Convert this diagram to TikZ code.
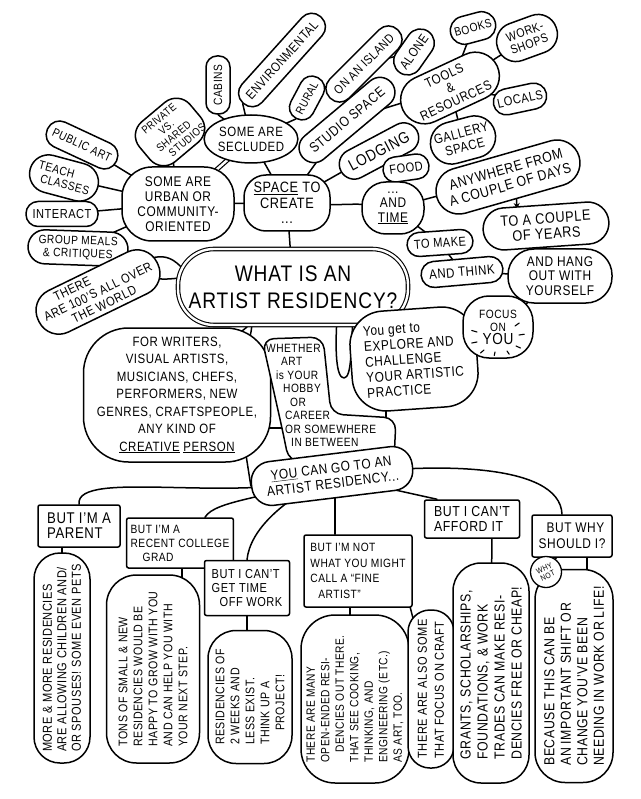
\documentclass[tikz,border=0pt]{standalone}
\usepackage{fontspec}
\newfontfamily\hand[FakeStretch=0.85,LetterSpace=4]{Liberation Sans}
\newcommand\myf[2]{\hand\fontsize{#1}{#2}\selectfont}
\usetikzlibrary{shapes.geometric,arrows.meta}
\pgfdeclarelayer{bg}
\pgfsetlayers{bg,main}
\tikzset{
  ln/.style={line width=1.5pt, line cap=round, line join=round},
  stad/.style={draw, fill=white, line width=1.5pt, rounded corners=#1, align=center, inner xsep=2pt, inner ysep=1pt},
  oval/.style={draw, fill=white, ellipse, line width=1.5pt, align=center, inner sep=0pt},
  sq/.style={draw, fill=white, line width=1.5pt, rounded corners=2pt, align=left, inner xsep=4pt, inner ysep=3pt},
}
\begin{document}
\begin{tikzpicture}[x=1pt,y=-1pt]
\useasboundingbox (0,0) rectangle (640,799);

% ---------- top left ----------
\node[stad=11pt, rotate=90, minimum width=58, minimum height=24, font=\myf{12}{13}] (cabins) at (218,85) {CABINS};
\node[stad=13pt, rotate=48, minimum width=116, minimum height=27, font=\myf{13}{14}] (env) at (282,60) {ENVIRONMENTAL};
\node[stad=12pt, rotate=62, minimum width=46, minimum height=25, font=\myf{11.5}{12}] (rural) at (307,98) {RURAL};
\node[stad=18pt, rotate=40, minimum width=66, minimum height=52, font=\myf{11}{11.5}] (private) at (170,132) {PRIVATE\\VS.\\SHARED\\\hspace*{16pt}STUDIOS};
\node[oval, minimum width=90, minimum height=48, font=\myf{13.5}{15}] (secluded) at (251,139) {SOME ARE\\SECLUDED};
\node[stad=13pt, rotate=-25, minimum width=76, minimum height=27, font=\myf{12}{13}] (publicart) at (82,145) {PUBLIC ART};
\node[stad=19pt, rotate=-15, minimum width=70, minimum height=38, font=\myf{12}{12.5}, align=left] (teach) at (64,178) {TEACH\\\hspace*{5pt}CLASSES};
\node[stad=12pt, minimum width=72, minimum height=25, font=\myf{13}{14}] (interact) at (62,214) {INTERACT};
\node[stad=17pt, rotate=-2, minimum width=100, minimum height=34, font=\myf{12}{13}] (group) at (78,248) {GROUP MEALS\\\& CRITIQUES};
\node[stad=30pt, minimum width=112, minimum height=74, font=\myf{14}{15}] (urban) at (178,204) {SOME ARE\\URBAN OR\\COMMUNITY-\\ORIENTED};
\node[stad=22pt, minimum width=86, minimum height=56, font=\myf{15}{15.5}] (space) at (287,203) {\underline{SPACE} TO\\CREATE\\...};

% ---------- top right ----------
\node[stad=13pt, rotate=45, minimum width=96, minimum height=27, font=\myf{12.5}{13}] (island) at (364,64) {ON AN ISLAND};
\node[stad=14pt, rotate=55, minimum width=50, minimum height=28, font=\myf{13}{14}] (alone) at (414,52) {ALONE};
\node[stad=15pt, rotate=40, minimum width=116, minimum height=30, font=\myf{14}{15}] (studio) at (347,120) {STUDIO SPACE};
\node[stad=24pt, rotate=25, minimum width=104, minimum height=48, font=\myf{13.5}{14}] (tools) at (450,88) {TOOLS\\\&\\RESOURCES};
\node[stad=14pt, rotate=15, minimum width=46, minimum height=28, font=\myf{12}{13}] (books) at (473,28) {BOOKS};
\node[stad=19pt, rotate=20, minimum width=62, minimum height=39, font=\myf{12.5}{13}] (workshops) at (527,38) {WORK-\\SHOPS};
\node[stad=13pt, rotate=12, minimum width=54, minimum height=26, font=\myf{13}{14}] (locals) at (520,99) {LOCALS};
\node[stad=21pt, rotate=15, minimum width=66, minimum height=42, font=\myf{13.5}{14.5}] (gallery) at (463,140) {GALLERY\\SPACE};
\node[stad=15pt, rotate=28, minimum width=86, minimum height=30, font=\myf{16}{16}] (lodging) at (379,151) {LODGING};
\node[stad=12pt, rotate=8, minimum width=46, minimum height=25, font=\myf{13}{13}] (food) at (406,168) {FOOD};
\node[stad=24pt, minimum width=62, minimum height=52, font=\myf{14}{14.5}] (andtime) at (393,208) {...\\AND\\\underline{TIME}};
\node[stad=23pt, rotate=16, minimum width=148, minimum height=46, font=\myf{14.5}{16}] (anywhere) at (508,177) {ANYWHERE FROM\\A COUPLE OF DAYS};
\node[stad=21pt, rotate=4, minimum width=126, minimum height=42, font=\myf{15}{15.5}] (years) at (546,226) {TO A COUPLE\\OF YEARS};
\node[stad=12pt, rotate=4, minimum width=66, minimum height=24, font=\myf{13}{13}] (tomake) at (440,243) {TO MAKE};
\node[stad=13pt, rotate=5, minimum width=82, minimum height=26, font=\myf{13.5}{13.5}] (andthink) at (462,272) {AND THINK};
\node[stad=26pt, minimum width=104, minimum height=54, font=\myf{14}{14.5}] (hangout) at (560,276) {AND HANG\\OUT WITH\\YOURSELF};

% ---------- middle ----------
\node[stad=22pt, rotate=26, minimum width=132, minimum height=46, font=\myf{13}{14}] (there) at (98,292) {THERE\hspace*{44pt}\\ARE 100’S ALL OVER\\THE WORLD};
\node[draw, fill=white, double, double distance=2.4pt, line width=1.1pt, rounded corners=36pt, minimum width=230, minimum height=76, align=center, font=\myf{22.5}{27}] (main) at (293,287) {WHAT IS AN\\ARTIST RESIDENCY?};
\node[stad=45pt, minimum width=187, minimum height=134, font=\myf{13.5}{17.5}] (writers) at (177,395) {FOR WRITERS,\\VISUAL ARTISTS,\\MUSICIANS, CHEFS,\\PERFORMERS, NEW\\GENRES, CRAFTSPEOPLE,\\ANY KIND OF\\\underline{CREATIVE} \underline{PERSON}};
\draw[ln, fill=white, rounded corners=12pt] (262,339) -- (323,337) -- (331,414) -- (396,418) -- (394,461) -- (289,462) -- (282,428) -- cycle;
\node[anchor=north west, inner sep=0pt, align=left, font=\myf{12}{13.5}] (whether) at (266,344) {WHETHER\\\hspace*{15pt}ART\\\hspace*{10pt}is YOUR\\\hspace*{17pt}HOBBY\\\hspace*{24pt}OR\\\hspace*{19pt}CAREER\\\hspace*{19pt}OR SOMEWHERE\\\hspace*{25pt}IN BETWEEN};
\node[stad=34pt, rotate=4, minimum width=126, minimum height=100, font=\myf{14}{15.5}, align=left] (explore) at (414,359) {You get to\\EXPLORE AND\\CHALLENGE\\YOUR ARTISTIC\\PRACTICE};
\node[stad=26pt, minimum width=70, minimum height=62, font=\myf{12}{13}] (focus) at (498,327) {FOCUS\\ON\\{\myf{16}{16}YOU}};
\coordinate (youc) at (498,338);
\foreach \dx/\dy in {-21/-6,-21/4,-14/12,-3/14,9/13,18/8,21/-3,17/-12}
  \draw[line width=1.1pt, line cap=round] ([shift={(\dx,\dy)}]youc) -- ([shift={({1.25*\dx},{1.25*\dy})}]youc);
\node[stad=20pt, rotate=7, minimum width=162, minimum height=44, font=\myf{14}{15.5}] (you) at (332,476) {\underline{YOU} CAN GO TO AN\\ARTIST RESIDENCY...};

% ---------- bottom boxes ----------
\node[sq, minimum width=82, minimum height=42, font=\myf{15.5}{15}] (parent) at (79,526) {BUT I’M A\\PARENT};
\node[sq, minimum width=105, minimum height=50, font=\myf{12}{14}] (grad) at (180,543) {BUT I’M A\\RECENT COLLEGE\\\hspace*{12pt}GRAD};
\node[sq, minimum width=85, minimum height=55, font=\myf{13}{14}] (timeoff) at (247,588) {BUT I CAN’T\\GET TIME\\\hspace*{8pt}OFF WORK};
\node[sq, minimum width=108, minimum height=72, font=\myf{12}{15.5}] (notfine) at (358,571) {BUT I’M NOT\\WHAT YOU MIGHT\\CALL A “FINE\\\hspace*{8pt}ARTIST”};
\node[sq, minimum width=95, minimum height=38, font=\myf{14.5}{15}] (afford) at (472,519) {BUT I CAN’T\\AFFORD IT};
\node[sq, minimum width=80, minimum height=42, font=\myf{14}{16}] (why) at (572,536) {\hspace*{8pt}BUT WHY\\SHOULD I?};

% ---------- bottom blobs ----------
\node[stad=26pt, rotate=90, align=left, minimum width=210, minimum height=56, font=\myf{13}{14.5}] (more) at (62,658) {MORE \& MORE RESIDENCIES\\ARE ALLOWING CHILDREN AND/\\OR SPOUSES! SOME EVEN PETS};
\node[stad=30pt, rotate=90, align=left, minimum width=188, minimum height=93, font=\myf{12.5}{15}] (tons) at (153,669) {TONS OF SMALL \& NEW\\RESIDENCIES WOULD BE\\HAPPY TO GROW WITH YOU\\AND CAN HELP YOU WITH\\YOUR NEXT STEP.};
\node[stad=28pt, rotate=90, align=left, minimum width=133, minimum height=84, font=\myf{12.5}{15}] (twoweeks) at (250,697) {RESIDENCIES OF\\2 WEEKS AND\\LESS EXIST.\\THINK UP A\\\hspace*{14pt}PROJECT!};
\node[stad=34pt, rotate=90, align=left, minimum width=168, minimum height=108, font=\myf{12}{14.5}] (many) at (355,699) {THERE ARE MANY\\OPEN-ENDED RESI-\\\hspace*{10pt}DENCIES OUT THERE.\\THAT SEE COOKING,\\THINKING, AND\\ENGINEERING (ETC.)\\AS ART, TOO.};
\node[stad=22pt, rotate=90, align=left, minimum width=158, minimum height=46, font=\myf{13}{17}] (craft) at (431,689) {THERE ARE ALSO SOME\\THAT FOCUS ON CRAFT};
\node[stad=28pt, rotate=90, align=left, minimum width=220, minimum height=76, font=\myf{14.5}{17}] (grants) at (491,673) {GRANTS, SCHOLARSHIPS,\\FOUNDATIONS, \& WORK\\TRADES CAN MAKE RESI-\\DENCIES FREE OR CHEAP!};
\node[stad=30pt, rotate=90, align=left, minimum width=213, minimum height=78, font=\myf{14.5}{16.5}] (because) at (574,676) {BECAUSE THIS CAN BE\\AN IMPORTANT SHIFT OR\\CHANGE YOU’VE BEEN\\NEEDING IN WORK OR LIFE!};
\node[draw, fill=white, circle, line width=1.3pt, minimum size=31, inner sep=0pt, rotate=25, align=center, font=\myf{8}{8}] (whynot) at (546,572) {WHY\\NOT};

% ---------- coordinates for tails ----------
\coordinate (thA) at (144,261);
\coordinate (thB) at (152,277);
\coordinate (thTip) at (191,279);
\coordinate (wA) at (222,338);
\coordinate (wB) at (241,358);
\coordinate (wTip) at (252,321);
\coordinate (tA) at (337,318);
\coordinate (tB) at (353,318);
\coordinate (tTip) at (344,378);
\coordinate (whL) at (283,428);
\coordinate (whT) at (386,417);
\coordinate (wyA) at (246,455);
\coordinate (arrS) at (516,190);
\coordinate (arrT) at (517,209);

% ---------- connectors (behind) ----------
\begin{pgfonlayer}{bg}
\fill[white] (0,0) rectangle (640,799);
\draw[ln] (cabins.west) -- (secluded.center);
\draw[ln] (env.west) -- (secluded.center);
\draw[ln] (rural.west) -- (secluded.center);
\draw[ln] (rural.center) -- (island.center);
\draw[ln] (island.center) -- (alone.center);
\draw[ln] (private.center) -- (urban.center);
\draw[line width=1.2pt, double, double distance=2.4pt] (secluded.center) -- (urban.center);
\draw[ln] (secluded.center) -- (space.center);
\draw[ln] (publicart.center) -- (urban.center);
\draw[ln] (teach.center) -- (urban.center);
\draw[ln] (interact.center) -- (urban.center);
\draw[ln] (group.center) -- (urban.center);
\draw[ln] (urban.center) -- (space.center);
\draw[ln] (space.center) -- (studio.center);
\draw[ln] (space.center) -- (lodging.center);
\draw[ln] (lodging.center) -- (food.center);
\draw[ln] (studio.center) -- (tools.center);
\draw[ln] (tools.center) -- (books.center);
\draw[ln] (tools.center) -- (workshops.center);
\draw[ln] (tools.center) -- (locals.center);
\draw[ln] (tools.center) -- (gallery.center);
\draw[ln] (space.center) .. controls (345,208) and (352,200) .. (andtime.center);
\draw[ln] (space.center) -- (main.center);
\draw[ln] (andtime.center) -- (anywhere.center);
\draw[ln] (andtime.center) -- (tomake.center);
\draw[ln] (tomake.center) -- (andthink.center);
\draw[ln] (andthink.center) -- (hangout.center);
\draw[ln] (hangout.center) -- (focus.center);
\draw[ln, -{Stealth[length=6pt,width=6pt]}] (arrS) -- (arrT);
% tails
\draw[ln, fill=white] (thA) .. controls (168,250) and (178,262) .. (thTip) .. controls (178,276) and (165,282) .. (thB);
\draw[ln, fill=white] (wA) .. controls (236,336) and (246,330) .. (wTip) .. controls (252,335) and (247,348) .. (wB);
\draw[ln, fill=white] (tA) .. controls (335,350) and (336,378) .. (tTip) .. controls (352,378) and (351,345) .. (tB);
\draw[ln] (writers.center |- whL) -- (whL);
\draw[ln] (whT) -- (whT |- explore.center);
\draw[ln] (wyA) -- (you.west);
% bottom
\draw[ln] (you.center) .. controls (240,505) and (75,468) .. (parent.north);
\draw[ln] (you.center) .. controls (270,498) and (215,500) .. ([xshift=25pt]grad.north);
\draw[ln] (you.center) .. controls (282,500) and (250,530) .. (timeoff.north);
\draw[ln] ([xshift=-23pt]notfine.north) -- ([xshift=-23pt]notfine.north |- you.center);
\draw[ln] (you.center) -- ([xshift=-35pt]afford.north);
\draw[ln] (you.center) .. controls (430,462) and (560,462) .. ([xshift=-10pt]why.north);
\draw[ln] (more.center) -- (more.center |- parent.center);
\draw[ln] ([xshift=2pt]grad.center) -- ([xshift=2pt]grad.center |- tons.center);
\draw[ln] (timeoff.center) -- (timeoff.center |- twoweeks.center);
\draw[ln] ([xshift=-8pt]notfine.center) -- ([xshift=-8pt]notfine.center |- many.center);
\draw[ln] ([xshift=-6pt,yshift=14pt]notfine.south east) -- (craft.center);
\draw[ln] ([xshift=20pt]afford.center) -- (grants.center);
\draw[ln] ([xshift=15pt]why.center) -- ([xshift=15pt]why.center |- because.center);
\draw[ln] (why.center) -- (whynot.center);
\end{pgfonlayer}
\end{tikzpicture}
\end{document}
